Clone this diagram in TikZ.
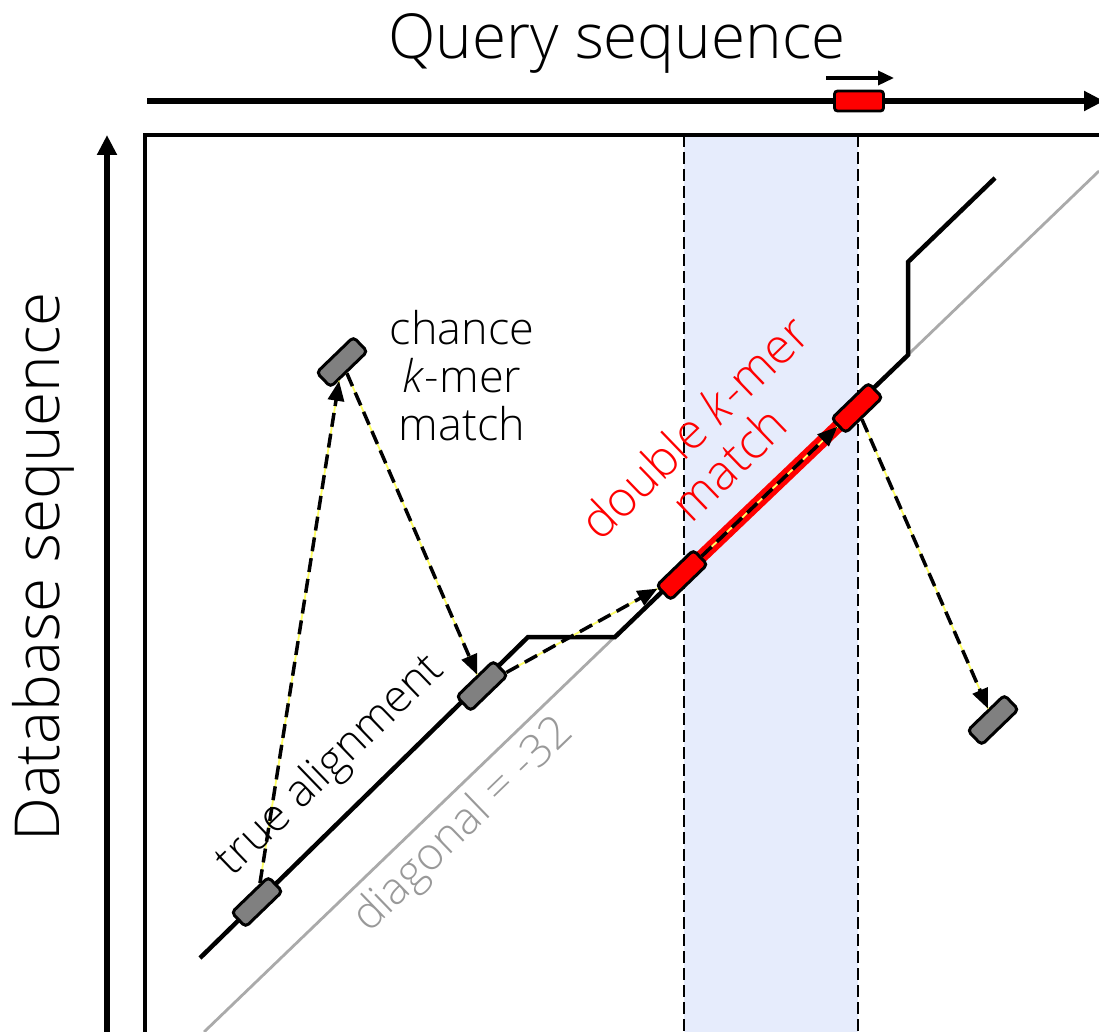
\documentclass[tikz,border=0pt]{standalone}
\usepackage{fontspec}
\setmainfont{Open Sans}[UprightFont={* Light}, ItalicFont={* Light Italic}]
\usetikzlibrary{arrows.meta,calc}
\definecolor{bandblue}{HTML}{E6ECFC}
\definecolor{boxgray}{HTML}{808080}
\definecolor{diaggray}{HTML}{AAAAAA}
\definecolor{textgray}{HTML}{999999}
\definecolor{dashyellow}{HTML}{FFFF66}
\begin{document}
\begin{tikzpicture}[x=1pt,y=-1pt,
  kbox/.style={draw, line width=3pt, rounded corners=4pt, minimum width=51pt, minimum height=20pt, inner sep=0pt, rotate=44},
  graybox/.style={kbox, fill=boxgray},
  redbox/.style={kbox, fill=red},
  hitarrow/.style={draw=black, line width=3.5pt, dash pattern=on 14pt off 7pt,
    -{Triangle[length=20pt,width=16pt]},
    preaction={draw=dashyellow, line width=1.8pt, solid, -}},
  lbl/.style={font=\fontsize{45}{48}\selectfont, inner sep=0pt, align=center},
  redlbl/.style={font=\fontsize{49}{50}\selectfont, inner sep=0pt, align=center},
  axislbl/.style={font=\fontsize{62}{70}\selectfont, inner sep=0pt},
  axisarrow/.style={line width=6pt, -{Triangle[length=20pt,width=19pt]}},
  alignpath/.style={line width=4.5pt, line join=miter},
  bandedge/.style={line width=2.2pt, dash pattern=on 12pt off 5pt}
]
\useasboundingbox (0,0) rectangle (1099,1032);
\clip (0,0) rectangle (1099,1032);

% shaded band
\fill[bandblue] (684,135) rectangle (858,1040);
\draw[bandedge] (684,135) -- (684,1040);
\draw[bandedge] (858,135) -- (858,1040);

% frame
\draw[line width=4pt] (145,135) rectangle (1110,1045);

% axes
\coordinate (qs) at (147,101);
\coordinate (qe) at (1104,101);
\coordinate (ds) at (107,1040);
\coordinate (de) at (107,135);
\draw[axisarrow] (qs) -- (qe);
\draw[axisarrow] (ds) -- (de);
\node[draw, line width=2.8pt, rounded corners=3pt, fill=red, minimum width=49pt, minimum height=20pt, inner sep=0pt] (rq) at (859,101) {};
\coordinate (sa) at (826,78);
\coordinate (sb) at (894,78);
\draw[line width=3.5pt, -{Triangle[length=16pt,width=14pt]}] (sa) -- (sb);

% labels of axes
\node[axislbl] (qlabel) at (617,43) {Query sequence};
\node[axislbl, rotate=90] (dlabel) at (43,567) {Database sequence};

% diagonal
\coordinate (dg0) at (204,1032);
\coordinate (dg1) at (1099,171);
\draw[diaggray, line width=2.8pt] (dg0) -- (dg1);

% true alignment path
\coordinate (a0) at (200,958);
\coordinate (a1) at (528,637);
\coordinate (a2) at (615,637);
\coordinate (a3) at (908,355);
\coordinate (a4) at (908,262);
\coordinate (a5) at (995,178);
\draw[alignpath] (a0) -- (a1) -- (a2) -- (a3) -- (a4) -- (a5);

% k-mer boxes
\node[graybox] (g1) at (257,902) {};
\node[graybox] (g2) at (482,686) {};
\node[graybox] (g3) at (342,362) {};
\node[graybox] (g4) at (993,720) {};
\node[redbox, draw=none, fill=none] (r1) at (682,575) {};
\node[redbox, draw=none, fill=none] (r2) at (857,408) {};

% double hit link
\draw[red, line width=13pt] (r1.center) -- (r2.center);

% arrows between hits
\draw[hitarrow] (g1) -- (g3);
\draw[hitarrow] (g3) -- (g2);
\draw[hitarrow] (g2) -- (r1);
\draw[hitarrow] (r1) -- (r2);
\draw[hitarrow] (r2) -- (g4);

% redraw red boxes on top
\node[redbox] at (r1.center) {};
\node[redbox] at (r2.center) {};

% texts
\node[lbl] (chance) at (462,376) {chance\\\textit{k}-mer\\match};
\node[lbl, rotate=44] (truealign) at (331,766) {true alignment};
\node[lbl, rotate=44, text=textgray] (diaglabel) at (464,826) {diagonal = -32};
\node[redlbl, rotate=44] (double) at (711,445) {\textcolor{red}{double \textit{k}-mer}\\\textcolor{red}{match}};
\end{tikzpicture}
\end{document}
